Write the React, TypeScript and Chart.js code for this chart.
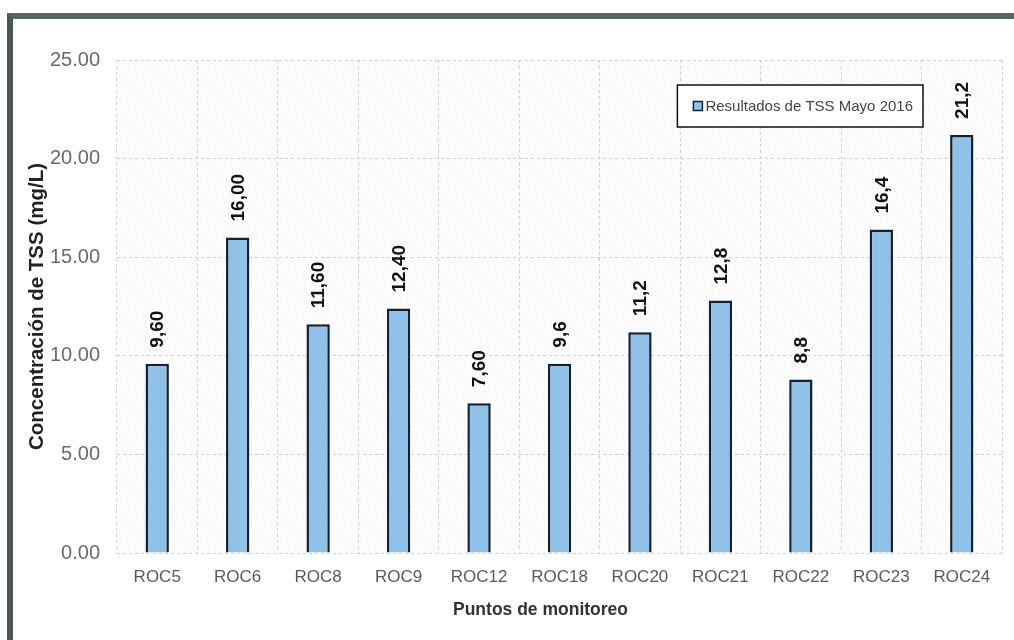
import React, { useEffect, useRef } from "react";
import { Chart, registerables } from "chart.js";

Chart.register(...registerables);

const categories = ["ROC5", "ROC6", "ROC8", "ROC9", "ROC12", "ROC18", "ROC20", "ROC21", "ROC22", "ROC23", "ROC24"];
const tssValues = [9.6, 16.0, 11.6, 12.4, 7.6, 9.6, 11.2, 12.8, 8.8, 16.4, 21.2];
const valueLabels = ["9,60", "16,00", "11,60", "12,40", "7,60", "9,6", "11,2", "12,8", "8,8", "16,4", "21,2"];
const seriesName = "Resultados de TSS Mayo 2016";
const yTitle = "Concentración de TSS (mg/L)";
const xTitle = "Puntos de monitoreo";

const FONT = "'Liberation Sans', Arial, sans-serif";
const BAR_FILL = "#8fc1e9";
const BAR_BORDER = "#16202e";

const hatchPlugin = {
  id: "hatchBg",
  beforeDraw(chart: any) {
    const { ctx, chartArea } = chart;
    if (!chartArea) return;
    const { left, top, right, bottom } = chartArea;
    ctx.save();
    ctx.beginPath();
    ctx.rect(left, top, right - left, bottom - top);
    ctx.clip();
    ctx.strokeStyle = "rgba(150,150,150,0.13)";
    ctx.lineWidth = 1;
    const h = bottom - top;
    for (let x = left - h; x < right; x += 5) {
      ctx.beginPath();
      ctx.moveTo(x, top);
      ctx.lineTo(x + h, bottom);
      ctx.stroke();
    }
    ctx.restore();
  },
};

const labelPlugin = {
  id: "valueLabels",
  afterDatasetsDraw(chart: any) {
    const { ctx } = chart;
    const meta = chart.getDatasetMeta(0);
    ctx.save();
    ctx.font = `bold 19px ${FONT}`;
    ctx.fillStyle = "#111";
    ctx.textAlign = "left";
    ctx.textBaseline = "middle";
    meta.data.forEach((bar: any, i: number) => {
      ctx.save();
      ctx.translate(bar.x + 1, bar.y - 16);
      ctx.rotate(-Math.PI / 2);
      ctx.fillText(valueLabels[i], 0, 0);
      ctx.restore();
    });
    ctx.restore();
  },
};

const xTitlePlugin = {
  id: "xTitleDraw",
  afterDraw(chart: any) {
    const { ctx, chartArea } = chart;
    ctx.save();
    ctx.font = `bold 17.5px ${FONT}`;
    ctx.fillStyle = "#333";
    ctx.textAlign = "center";
    ctx.textBaseline = "middle";
    ctx.fillText(xTitle, (chartArea.left + chartArea.right) / 2 - 19, chartArea.bottom + 57);
    ctx.restore();
  },
};

const legendPlugin = {
  id: "boxLegend",
  afterDraw(chart: any) {
    const { ctx, chartArea } = chart;
    const ds = chart.data.datasets[0];
    ctx.save();
    ctx.font = `15px ${FONT}`;
    const tw = ctx.measureText(ds.label).width;
    const right = chartArea.right - 79;
    const top = chartArea.top + 25;
    const height = 42;
    const left = right - 10 - tw - 3 - 9 - 16;
    ctx.fillStyle = "#ffffff";
    ctx.fillRect(left, top, right - left, height);
    ctx.strokeStyle = "#111";
    ctx.lineWidth = 1.5;
    ctx.strokeRect(left, top, right - left, height);
    const cy = top + height / 2;
    ctx.fillStyle = ds.backgroundColor;
    ctx.fillRect(left + 16, cy - 4.5, 9, 9);
    ctx.strokeStyle = ds.borderColor;
    ctx.lineWidth = 1.5;
    ctx.strokeRect(left + 16, cy - 4.5, 9, 9);
    ctx.fillStyle = "#444";
    ctx.textAlign = "left";
    ctx.textBaseline = "middle";
    ctx.fillText(ds.label, left + 28, cy + 1);
    ctx.restore();
  },
};

export default function App() {
  const ref = useRef<HTMLCanvasElement | null>(null);
  useEffect(() => {
    if (!ref.current) return;
    const chart = new Chart(ref.current, {
      type: "bar",
      data: {
        labels: categories,
        datasets: [
          {
            label: seriesName,
            data: tssValues,
            backgroundColor: BAR_FILL,
            borderColor: BAR_BORDER,
            borderWidth: 2.5,
            barPercentage: 0.29,
            categoryPercentage: 1,
          },
        ],
      },
      options: {
        responsive: false,
        animation: false,
        devicePixelRatio: 1,
        layout: { padding: { left: 0, right: 12, top: 60, bottom: 0 } },
        plugins: {
          legend: { display: false },
          tooltip: { enabled: false },
        },
        scales: {
          x: {
            afterFit: (s: any) => {
              s.height = 87;
            },
            grid: {
              display: true,
              color: "#cfcfcf",
              drawTicks: false,
              offset: true,
            } as any,
            border: { display: false, dash: [3, 3] },
            ticks: {
              color: "#5a5a5a",
              font: { family: FONT, size: 17 },
              padding: 14,
            },
            title: { display: false, text: xTitle },
          },
          y: {
            min: 0,
            max: 25,
            afterFit: (s: any) => {
              s.width = 117;
            },
            grid: {
              color: "#cfcfcf",
              drawTicks: false,
            },
            border: { display: false, dash: [3, 3] },
            ticks: {
              stepSize: 5,
              color: "#6a6a6a",
              font: { family: FONT, size: 20 },
              padding: 17,
              callback: (v: any) => Number(v).toFixed(2),
            },
            title: {
              display: true,
              text: yTitle,
              color: "#222",
              font: { family: FONT, size: 20.5, weight: "bold" },
              padding: { top: 25, bottom: 0 },
            },
          },
        },
      },
      plugins: [hatchPlugin, labelPlugin, xTitlePlugin, legendPlugin],
    });
    return () => chart.destroy();
  }, []);

  return (
    <div
      style={{
        position: "absolute",
        left: 0,
        top: 0,
        width: 1014,
        height: 640,
        overflow: "hidden",
        background: "#ffffff",
      }}
    >
      <div
        style={{
          position: "absolute",
          left: 7,
          top: 13,
          width: 1100,
          height: 700,
          borderTop: "6px solid #5a675f",
          borderLeft: "6px solid #4c5752",
        }}
      />
      <canvas ref={ref} width={1014} height={640} style={{ position: "absolute", left: 0, top: 0 }} />
    </div>
  );
}
